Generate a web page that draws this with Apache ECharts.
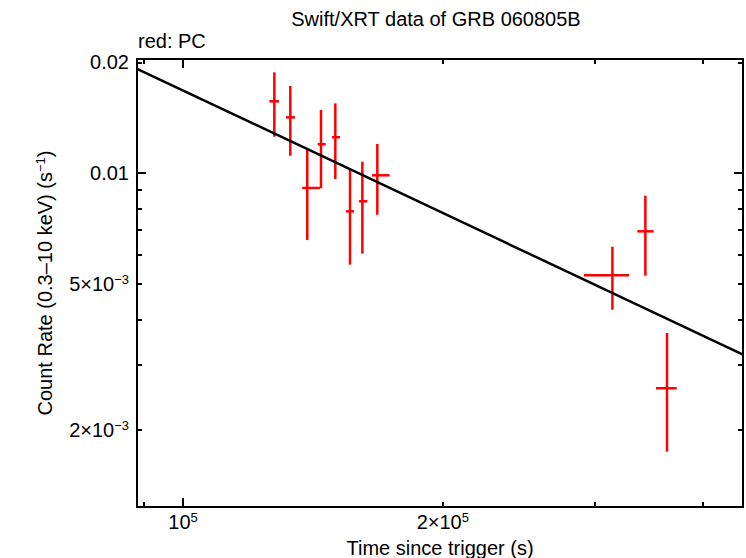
<!DOCTYPE html>
<html>
<head>
<meta charset="utf-8">
<script src="https://cdn.jsdelivr.net/npm/echarts@6/dist/echarts.min.js"></script>
<style>html,body{margin:0;padding:0;background:#fff}#c{width:746px;height:558px}</style>
</head>
<body>
<div id="c"></div>
<script>
// ---- data ----
const timeMid  = [127600, 133150, 139310, 144520, 150140, 156150, 161380, 167950, 314500, 343400, 363800];
const timeLo   = [125900, 131640, 137450, 143260, 148820, 154500, 159950, 165580, 291500, 336100, 353300];
const timeHi   = [129200, 134830, 144120, 146350, 152020, 157820, 163540, 173560, 328800, 351100, 373400];
const rate     = [0.01568, 0.01418, 0.00911, 0.01198, 0.01252, 0.007869, 0.008381, 0.009863, 0.00527, 0.006943, 0.002597];
const rateLo   = [0.01256, 0.01115, 0.006577, 0.009093, 0.009636, 0.005633, 0.006035, 0.007702, 0.004249, 0.005256, 0.001745];
const rateHi   = [0.01880, 0.01726, 0.01161, 0.01485, 0.01548, 0.01020, 0.01074, 0.01200, 0.006303, 0.008680, 0.003672];
const modelTime = [88450, 445600];
const modelRate = [0.01922, 0.003207];
const xRange = [88450, 445600];
const yRange = [0.001234, 0.02044];
const xMajorTicks = [100000];
const xMinorTicks = [90000, 200000, 300000, 400000];
const xLabelValues = [100000, 200000];
const xLabelTexts = ['{b|10}{s|5}', '{b|2×10}{s|5}'];
const yMajorTicks = [0.01];
const yMinorTicks = [0.002, 0.003, 0.004, 0.005, 0.006, 0.007, 0.008, 0.009, 0.02];
const yLabelValues = [0.002, 0.005, 0.01, 0.02];
const yLabelTexts = ['{b|2×10}{s|−3}', '{b|5×10}{s|−3}', '{b|0.01}', '{b|0.02}'];
const titleText = 'Swift/XRT data of GRB 060805B';
const legendText = 'red: PC';
const xName = 'Time since trigger (s)';
const yName = 'Count Rate (0.3–10 keV) (s{s|−1})';

const font = '"Liberation Sans", Arial, Helvetica, sans-serif';
function pick(vals, texts, v) {
  let best = -1, bd = Infinity;
  vals.forEach((u, i) => { const d = Math.abs(Math.log(u) - Math.log(v)); if (d < bd) { bd = d; best = i; } });
  return bd < 0.01 ? texts[best] : '';
}
const labelRich = {
  b: { fontSize: 20, fontFamily: font, color: '#000', lineHeight: 22 },
  s: { fontSize: 13, fontFamily: font, color: '#000', lineHeight: 13, verticalAlign: 'top' }
};
const lineStyle = { color: '#000', width: 2, cap: 'square' };

function axis(kind, position, ticks, len, withLabel, withLine) {
  const isX = kind === 'x';
  const a = {
    type: 'log', logBase: 10, position: position,
    min: isX ? xRange[0] : yRange[0], max: isX ? xRange[1] : yRange[1],
    axisLine: { show: withLine, onZero: false, lineStyle: lineStyle },
    axisTick: { show: true, inside: true, length: len, customValues: ticks, lineStyle: { color: '#000', width: 2 } },
    minorTick: { show: false }, splitLine: { show: false }, minorSplitLine: { show: false },
    axisLabel: { show: false }
  };
  if (withLabel) {
    a.axisLabel = {
      show: true, customValues: isX ? xLabelValues : yLabelValues,
      margin: isX ? 4 : 8,
      formatter: v => isX ? pick(xLabelValues, xLabelTexts, v) : pick(yLabelValues, yLabelTexts, v),
      rich: labelRich
    };
    a.name = isX ? xName : yName;
    a.nameLocation = 'middle';
    a.nameGap = isX ? 27 : 81;
    a.nameTextStyle = {
      fontSize: 20, fontFamily: font, color: '#000', lineHeight: 22,
      rich: { s: { fontSize: 13, fontFamily: font, color: '#000', lineHeight: 13, verticalAlign: 'top' } }
    };
  }
  return a;
}

const rows = timeMid.map((t, i) => [t, rate[i], timeLo[i], timeHi[i], rateLo[i], rateHi[i]]);
const chart = echarts.init(document.getElementById('c'), null, { renderer: 'svg' });
chart.setOption({
  animation: false,
  backgroundColor: '#fff',
  grid: { left: 137, right: 3, top: 59, bottom: 51, containLabel: false, outerBoundsMode: 'none' },
  xAxis: [
    axis('x', 'bottom', xMajorTicks, 9, true, true),
    axis('x', 'bottom', xMinorTicks, 5, false, false),
    axis('x', 'top', xMajorTicks, 9, false, true),
    axis('x', 'top', xMinorTicks, 5, false, false)
  ],
  yAxis: [
    axis('y', 'left', yMajorTicks, 9, true, true),
    axis('y', 'left', yMinorTicks, 5, false, false),
    axis('y', 'right', yMajorTicks, 9, false, true),
    axis('y', 'right', yMinorTicks, 5, false, false)
  ],
  graphic: [
    { type: 'text', x: 436, y: 19, style: { text: titleText, fontSize: 20, fontFamily: font, fill: '#000', align: 'center', verticalAlign: 'middle' } },
    { type: 'text', x: 138, y: 41, style: { text: legendText, fontSize: 20, fontFamily: font, fill: '#000', align: 'left', verticalAlign: 'middle' } }
  ],
  series: [
    {
      type: 'custom', xAxisIndex: 0, yAxisIndex: 0, z: 2, silent: true,
      data: rows, encode: { x: [0, 2, 3], y: [1, 4, 5] },
      renderItem: function (params, api) {
        const c = api.coord([api.value(0), api.value(1)]);
        const l = api.coord([api.value(2), api.value(1)]);
        const r = api.coord([api.value(3), api.value(1)]);
        const b = api.coord([api.value(0), api.value(4)]);
        const t = api.coord([api.value(0), api.value(5)]);
        const st = { stroke: '#ff0000', lineWidth: 2.5 };
        return { type: 'group', children: [
          { type: 'line', shape: { x1: l[0], y1: c[1], x2: r[0], y2: c[1] }, style: st },
          { type: 'line', shape: { x1: c[0], y1: t[1], x2: c[0], y2: b[1] }, style: st }
        ] };
      }
    },
    {
      type: 'line', xAxisIndex: 0, yAxisIndex: 0, z: 3, silent: true,
      data: modelTime.map((t, i) => [t, modelRate[i]]),
      symbol: 'none', showSymbol: false,
      lineStyle: { color: '#000', width: 2.5 }
    }
  ]
});
</script>
</body>
</html>
